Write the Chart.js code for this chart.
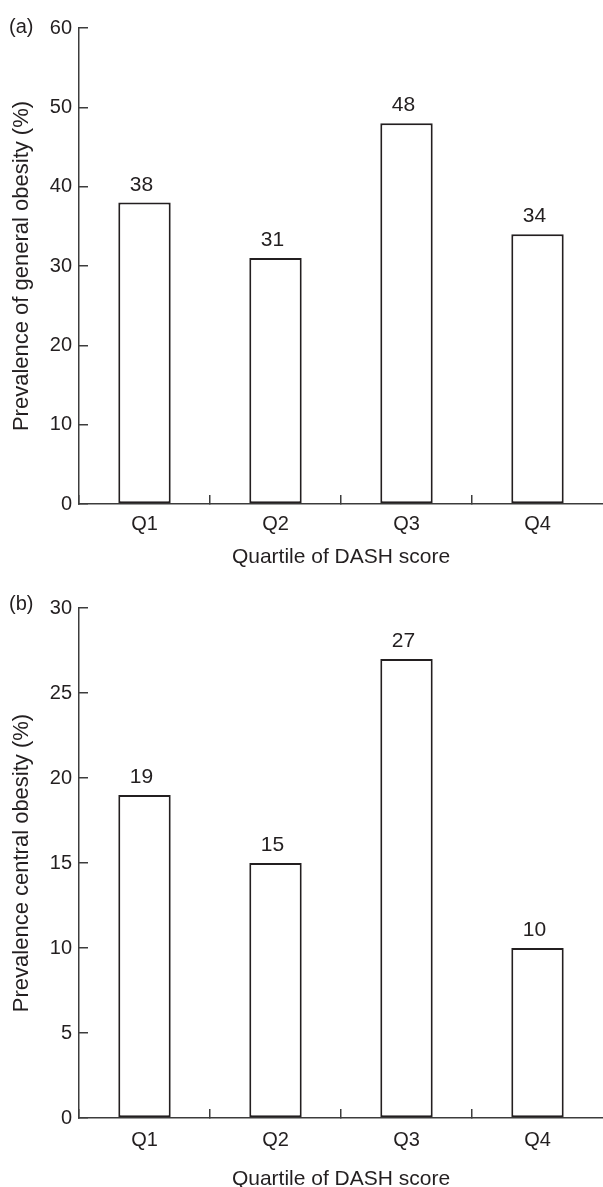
<!DOCTYPE html>
<html>
<head>
<meta charset="utf-8">
<script src="https://cdn.jsdelivr.net/npm/chart.js@4.4.1/dist/chart.umd.min.js"></script>
<style>
  html, body { margin: 0; padding: 0; background: #fff; overflow: hidden; }
  body { width: 603px; height: 1187px; position: relative; font-family: "Liberation Sans", Arial, sans-serif; color: #231f20; }
  .panel { position: absolute; left: 0; width: 603px; }
  #panelA { top: 0; height: 580px; }
  #panelB { top: 580px; height: 627px; }
  .tag { position: absolute; left: 9px; font-size: 20px; line-height: 1; }
</style>
</head>
<body>
<div class="panel" id="panelA"><canvas id="chartA"></canvas></div>
<div class="panel" id="panelB"><canvas id="chartB"></canvas></div>
<div class="tag" style="top:16px">(a)</div>
<div class="tag" style="top:593px">(b)</div>

<script>
// Dados
const quartiles = ['Q1', 'Q2', 'Q3', 'Q4'];
const generalObesity = [38, 31, 48, 34];
const centralObesity = [19, 15, 27, 10];
const generalTicks = [0, 10, 20, 30, 40, 50, 60];
const centralTicks = [0, 5, 10, 15, 20, 25, 30];

const FONT = '"Liberation Sans", Arial, Helvetica, sans-serif';
const INK = '#231f20';
const AXIS = '#3c3c3c';

// Rótulos de valor acima das barras
const valueLabels = {
    id: 'valueLabels',
    afterDatasetsDraw: function(chart) {
        const ctx = chart.ctx;
        const meta = chart.getDatasetMeta(0);
        const values = chart.data.datasets[0].data;
        ctx.save();
        ctx.font = '21px ' + FONT;
        ctx.fillStyle = INK;
        ctx.textAlign = 'center';
        ctx.textBaseline = 'alphabetic';
        meta.data.forEach(function(bar, i) {
            ctx.fillText(String(values[i]), bar.x - 3, bar.y - 12);
        });
        ctx.restore();
    }
};

// Cria um painel
function makeChart(id, values, ticks, yTitle, cfg) {
    const tickColor = function(c) { return c.index === undefined ? 'rgba(0,0,0,0)' : AXIS; };
    return new Chart(document.getElementById(id), {
        type: 'bar',
        data: {
            labels: quartiles,
            datasets: [{
                data: values,
                backgroundColor: '#ffffff',
                borderColor: INK,
                borderWidth: 2,
                borderSkipped: false,
                barPercentage: 0.4,
                categoryPercentage: 1
            }]
        },
        options: {
            responsive: true,
            maintainAspectRatio: false,
            animation: false,
            layout: { padding: { top: cfg.top, right: 0, bottom: 0, left: 0 } },
            plugins: { legend: { display: false }, tooltip: { enabled: false } },
            scales: {
                x: {
                    grid: { drawOnChartArea: false, drawTicks: true, tickLength: -9, tickColor: tickColor, lineWidth: 1.5 },
                    border: { color: AXIS, width: 1.5 },
                    ticks: { color: INK, font: { family: FONT, size: 20 }, padding: cfg.xTickPad, maxRotation: 0 },
                    title: {
                        display: true,
                        text: 'Quartile of DASH score',
                        color: INK,
                        font: { family: FONT, size: 21 },
                        padding: { top: 0, bottom: cfg.xTitlePad }
                    },
                    afterFit: function(scale) { scale.height = cfg.xHeight; }
                },
                y: {
                    min: ticks[0],
                    max: ticks[ticks.length - 1],
                    afterBuildTicks: function(scale) {
                        scale.ticks = ticks.map(function(v) { return { value: v }; });
                    },
                    grid: { drawOnChartArea: false, drawTicks: true, tickLength: -9, tickColor: AXIS, lineWidth: 1.5 },
                    border: { color: AXIS, width: 1.5 },
                    ticks: { color: INK, font: { family: FONT, size: 20 }, padding: 16 },
                    title: {
                        display: true,
                        text: yTitle,
                        color: INK,
                        font: { family: FONT, size: 22 },
                        padding: { top: 9, bottom: 0 }
                    },
                    afterFit: function(scale) { scale.width = 79; }
                }
            }
        },
        plugins: [valueLabels]
    });
}

makeChart('chartA', generalObesity, generalTicks, 'Prevalence of general obesity (%)',
    { top: 28, xHeight: 76, xTickPad: 17, xTitlePad: 10 });
makeChart('chartB', centralObesity, centralTicks, 'Prevalence central obesity (%)',
    { top: 26, xHeight: 89, xTickPad: 19, xTitlePad: 15 });
</script>
</body>
</html>
